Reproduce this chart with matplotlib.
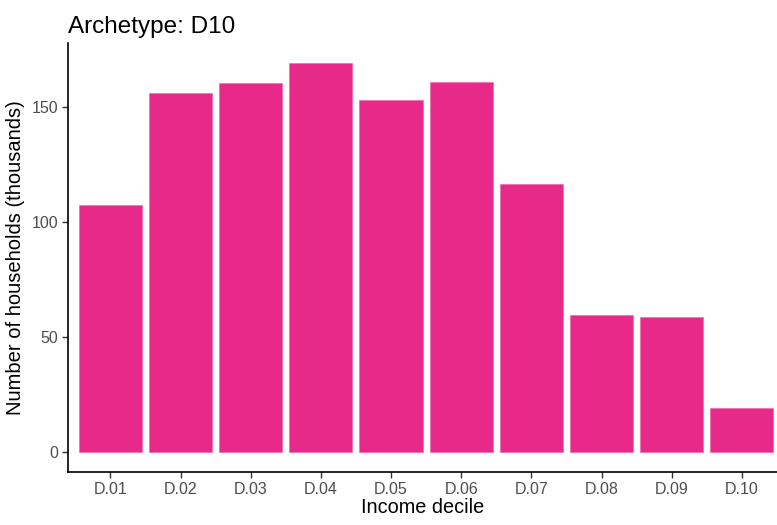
import matplotlib
matplotlib.use("Agg")
import matplotlib.pyplot as plt
import numpy as np

plt.rcParams['font.family'] = ['Liberation Sans', 'DejaVu Sans']

deciles = ['D.01', 'D.02', 'D.03', 'D.04', 'D.05', 'D.06', 'D.07', 'D.08', 'D.09', 'D.10']
households = [107.4, 155.9, 160.3, 169.3, 152.9, 161.0, 116.5, 59.7, 58.9, 19.5]

fig = plt.figure(figsize=(7.77, 5.25), dpi=100)
ax = fig.add_axes([0.0879, 0.101, 0.9121, 0.817])

x = np.arange(len(deciles))
ax.bar(x, households, width=0.9, color='#E7298A', edgecolor='#F06BAE', linewidth=0.5)

ymax = max(households)
ax.set_ylim(-0.05 * ymax, ymax * 1.05)
# right side of the panel is cut off at the figure edge
ax.set_xlim(-0.6, len(deciles) - 0.5)
ax.set_xticks(x)
ax.set_xticklabels(deciles)
ax.set_yticks([0, 50, 100, 150])

for s in ['top', 'right']:
    ax.spines[s].set_visible(False)
for s in ['left', 'bottom']:
    ax.spines[s].set_linewidth(1.2)
    ax.spines[s].set_color('black')
ax.tick_params(axis='both', length=4, width=1, color='#333333', labelcolor='#4D4D4D', labelsize=11.5, pad=3)

ax.set_xlabel('Income decile', fontsize=14.3, color='black', labelpad=1)
ax.set_ylabel('Number of households (thousands)', fontsize=14.5, color='black', labelpad=5)
ax.set_title('Archetype: D10', fontsize=17.5, loc='left', x=0.0, pad=7, color='black')

fig.savefig('out.png', dpi=100)
